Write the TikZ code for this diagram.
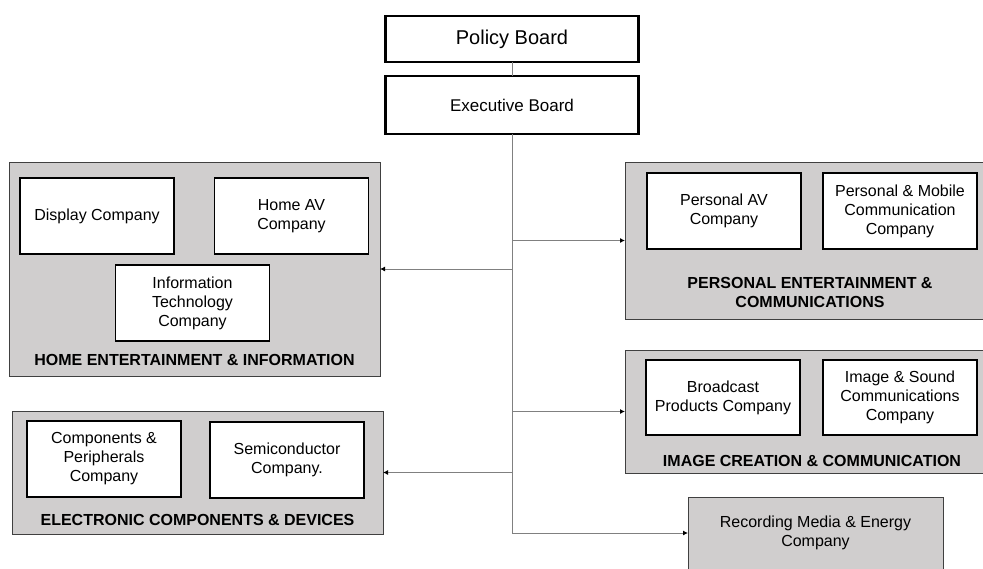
\documentclass[tikz,border=0pt]{standalone}
\usepackage{fontspec}
\setmainfont{Liberation Sans}
\usetikzlibrary{arrows.meta,positioning}
\definecolor{divgray}{RGB}{208,206,206}
\definecolor{linegray}{RGB}{128,128,128}
\definecolor{edgegray}{RGB}{64,64,64}

\begin{document}
\begin{tikzpicture}[x=1pt,y=-1pt,>={Latex[length=5pt,width=5pt,black]},
	every node/.style={font=\fontsize{16}{19}\selectfont, align=center, inner sep=0pt, outer sep=0pt},
	board/.style={draw, line width=2.4pt, fill=white, minimum width=253pt},
	division/.style={draw=edgegray, line width=0.9pt, fill=divgray},
	company/.style={draw, line width=1.3pt, fill=white, minimum width=154pt, minimum height=76pt},
	divlabel/.style={font=\bfseries\fontsize{16}{19}\selectfont},
	link/.style={draw=linegray, line width=0.9pt}]
					\useasboundingbox (0,0) rectangle (983,568);
					% top of the tree
					\node[board, minimum height=46pt, font=\fontsize{20}{24}\selectfont] (policy) at (512,39) {Policy Board};
					\node[board, minimum height=58pt, font=\fontsize{17}{20}\selectfont] (exec) at (512,105) {Executive Board};
					% divisions
					\node[division, minimum width=371pt, minimum height=214pt] (home) at (194.5,269) {};
					\node[division, minimum width=371pt, minimum height=123pt] (elec) at (197.5,472.5) {};
					\node[division, minimum width=372pt, minimum height=157pt] (pers) at (811,240.5) {};
					\node[division, minimum width=372pt, minimum height=123pt] (image) at (811,411.5) {};
					\node[division, minimum width=255pt, minimum height=72pt] (rec) at (815.5,533) {Recording Media \& Energy\\Company};
					% companies
					\node[company] (display) at (97,216) {Display Company};
					\node[company] (homeav) at (291.5,216) {Home AV\\Company};
					\node[company] (infotech) at (192.5,303) {Information\\Technology\\Company};
					\node[company] (compper) at (104,459) {Components \&\\Peripherals\\Company};
					\node[company] (semi) at (287,460) {Semiconductor\\Company.};
					\node[company] (persav) at (724,211) {Personal AV\\Company};
					\node[company] (persmob) at (900,211) {Personal \& Mobile\\Communication\\Company};
					\node[company, minimum height=75pt] (broadcast) at (723,397.5) {Broadcast\\Products Company};
					\node[company, minimum height=75pt] (imgsound) at (900,397.5) {Image \& Sound\\Communications\\Company};
					% division names
					\node[divlabel] (homelbl) at (194.5,360) {HOME ENTERTAINMENT \& INFORMATION};
					\node[divlabel] (eleclbl) at (197.5,520) {ELECTRONIC COMPONENTS \& DEVICES};
					\node[divlabel] (perslbl) at (810,292) {PERSONAL ENTERTAINMENT \&\\COMMUNICATIONS};
					\node[divlabel] (imagelbl) at (812,461) {IMAGE CREATION \& COMMUNICATION};
					% connectors
					\coordinate (trunk) at (exec.south |- rec.west);
					\draw[link] (policy) -- (exec);
					\draw[link] (exec) -- (trunk);
					\draw[link,->] (exec.south |- home.east) -- (home.east);
					\draw[link,->] (exec.south |- elec.east) -- (elec.east);
					\draw[link,->] (exec.south |- pers.west) -- (pers.west);
					\draw[link,->] (exec.south |- image.west) -- (image.west);
					\draw[link,->] (trunk) -- (rec.west);
				\end{tikzpicture}
\end{document}
